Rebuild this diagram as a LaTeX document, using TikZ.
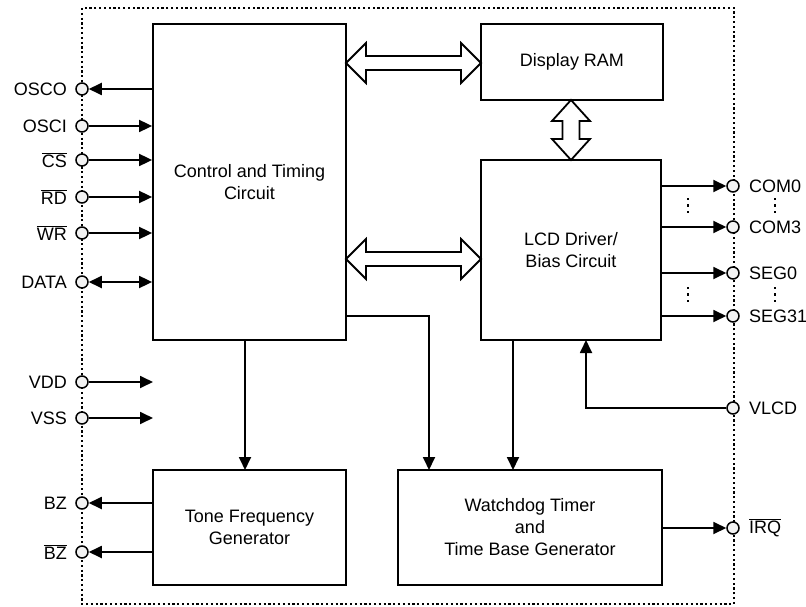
\documentclass[tikz,border=0pt]{standalone}
\usepackage{fontspec}
\setmainfont{Liberation Sans}
\usetikzlibrary{arrows.meta}
\newcommand\ovl[1]{$\overline{\hbox{#1}}$}
\begin{document}
\begin{tikzpicture}[x=1bp,y=-1bp,
  every node/.style={font=\fontsize{18bp}{22bp}\selectfont},
  blk/.style={draw,line width=1.8bp,fill=white,align=center,inner sep=0pt},
  pin/.style={draw,circle,line width=1.5bp,fill=white!95!black,minimum size=12bp,inner sep=0pt},
  conn/.style={line width=1.8bp,arrows={-Triangle[length=13bp,width=12bp]}},
  bconn/.style={line width=1.8bp,arrows={Triangle[length=13bp,width=12bp]-Triangle[length=13bp,width=12bp]}},
  lconn/.style={line width=1.8bp,arrows={Triangle[length=13bp,width=12bp]-}},
  lbl/.style={inner sep=0pt},
  fat/.style={line width=1.8bp,fill=white,line join=miter}
]
\useasboundingbox (0,0) rectangle (806,607);
% border
\draw[line width=2bp,dash pattern=on 2.2bp off 2.6bp] (82,8) rectangle (734,604);

% blocks
\node[blk,minimum width=193bp,minimum height=316bp] (ctrl) at (249.5,182) {Control and Timing\\Circuit};
\node[blk,minimum width=182bp,minimum height=76bp] (ram) at (572,62) {Display RAM};
\node[blk,minimum width=180bp,minimum height=180bp] (lcd) at (571,250) {LCD Driver/\\Bias Circuit};
\node[blk,minimum width=193bp,minimum height=115bp] (tone) at (249.5,527.5) {Tone Frequency\\Generator};
\node[blk,minimum width=264bp,minimum height=115bp] (wd) at (530,527.5) {Watchdog Timer\\and\\Time Base Generator};

% fat double arrows
\draw[fat] (346,63) -- (366,43) -- (366,56) -- (461,56) -- (461,43) -- (481,63) -- (461,83) -- (461,70) -- (366,70) -- (366,83) -- cycle;
\draw[fat] (346,259) -- (366,239) -- (366,252) -- (461,252) -- (461,239) -- (481,259) -- (461,279) -- (461,266) -- (366,266) -- (366,279) -- cycle;
\draw[fat] (571,100) -- (590,121) -- (579.5,121) -- (579.5,139) -- (590,139) -- (571,160) -- (552,139) -- (562.5,139) -- (562.5,121) -- (552,121) -- cycle;

% left pins
\node[pin] (osco) at (82,89) {};
\node[pin] (osci) at (82,126) {};
\node[pin] (cs) at (82,160) {};
\node[pin] (rd) at (82,197) {};
\node[pin] (wr) at (82,233) {};
\node[pin] (data) at (82,282) {};
\node[pin] (vdd) at (82,382) {};
\node[pin] (vss) at (82,418) {};
\node[pin] (bz) at (82,503) {};
\node[pin] (bzn) at (82,552) {};
\node[lbl,anchor=east] (losco) at (67,89) {OSCO};
\node[lbl,anchor=east] (losci) at (67,126) {OSCI};
\node[lbl,anchor=east] (lcs) at (67,160) {\ovl{CS}};
\node[lbl,anchor=east] (lrd) at (67,197) {\ovl{RD}};
\node[lbl,anchor=east] (lwr) at (67,233) {\ovl{WR}};
\node[lbl,anchor=east] (ldata) at (67,282) {DATA};
\node[lbl,anchor=east] (lvdd) at (67,382) {VDD};
\node[lbl,anchor=east] (lvss) at (67,418) {VSS};
\node[lbl,anchor=east] (lbz) at (67,503) {BZ};
\node[lbl,anchor=east] (lbzn) at (67,552) {\ovl{BZ}};

\draw[lconn] (osco) -- (osco -| ctrl.west);
\draw[conn] (osci) -- (osci -| ctrl.west);
\draw[conn] (cs) -- (cs -| ctrl.west);
\draw[conn] (rd) -- (rd -| ctrl.west);
\draw[conn] (wr) -- (wr -| ctrl.west);
\draw[bconn] (data) -- (data -| ctrl.west);
\coordinate (vddend) at (153,382);
\coordinate (vssend) at (153,418);
\draw[conn] (vdd) -- (vddend);
\draw[conn] (vss) -- (vssend);
\draw[lconn] (bz) -- (bz -| tone.west);
\draw[lconn] (bzn) -- (bzn -| tone.west);

% right pins
\node[pin] (com0) at (733,186) {};
\node[pin] (com3) at (733,227) {};
\node[pin] (seg0) at (733,273) {};
\node[pin] (seg31) at (733,316) {};
\node[pin] (vlcd) at (733,408) {};
\node[pin] (irq) at (733,528) {};
\node[lbl,anchor=west] (lcom0) at (749,186) {COM0};
\node[lbl,anchor=west] (lcom3) at (749,227) {COM3};
\node[lbl,anchor=west] (lseg0) at (749,273) {SEG0};
\node[lbl,anchor=west] (lseg31) at (749,316) {SEG31};
\node[lbl,anchor=west] (lvlcd) at (749,408) {VLCD};
\node[lbl,anchor=west] (lirq) at (749,528) {\ovl{IRQ}};

\draw[conn] (com0 -| lcd.east) -- (com0);
\draw[conn] (com3 -| lcd.east) -- (com3);
\draw[conn] (seg0 -| lcd.east) -- (seg0);
\draw[conn] (seg31 -| lcd.east) -- (seg31);
\draw[conn] (irq -| wd.east) -- (irq);
\coordinate (vlcdt) at (586,340);
\draw[conn] (vlcd) -| (vlcdt);

% vertical dots
\foreach \x in {688,775}{
  \foreach \y in {199,205.5,212,288,294.5,301}{
    \fill (\x-1,\y-1.2) rectangle (\x+1,\y+1.2);
  }
}

% internal connections
\coordinate (c1) at (245,340);
\coordinate (t1) at (245,470);
\draw[conn] (c1) -- (t1);
\coordinate (c2) at (346,316);
\coordinate (w1) at (429,470);
\draw[conn] (c2) -| (w1);
\coordinate (l1) at (513,340);
\coordinate (w2) at (513,470);
\draw[conn] (l1) -- (w2);
\end{tikzpicture}
\end{document}
